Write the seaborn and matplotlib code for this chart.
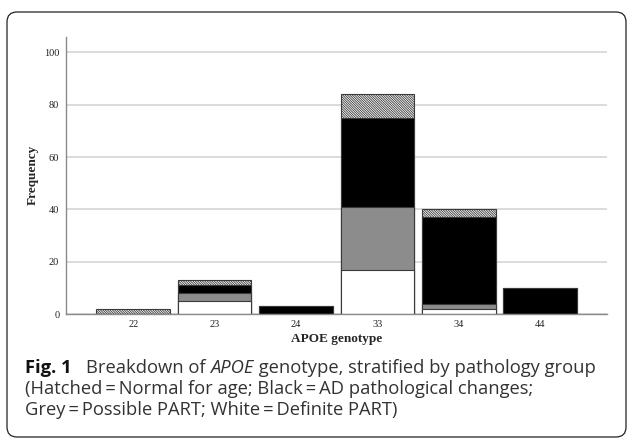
import matplotlib
matplotlib.use("Agg")
import matplotlib.pyplot as plt
from matplotlib.patches import FancyBboxPatch
import seaborn as sns

# APOE genotype counts per pathology group
genotypes = ['22', '23', '24', '33', '34', '44']
definite_part = [0, 5, 0, 17, 2, 0]     # white
possible_part = [0, 3, 0, 24, 2, 0]     # grey
ad_changes = [0, 3, 3, 34, 33, 10]      # black
normal_for_age = [2, 2, 0, 9, 3, 0]     # hatched

y_ticks = [0, 20, 40, 60, 80, 100]

sns.set_style("white")
plt.rcParams['font.family'] = ['Liberation Serif', 'DejaVu Serif']
plt.rcParams['hatch.linewidth'] = 0.6
plt.rcParams['hatch.color'] = '#444444'

fig = plt.figure(figsize=(6.28, 4.38), dpi=100)
ax = fig.add_axes([0.1043, 0.2831, 0.9666 - 0.1043, 0.9162 - 0.2831])

# cumulative stacks, drawn tallest first so each layer covers the one below
lvl_white = definite_part
lvl_grey = [a + b for a, b in zip(lvl_white, possible_part)]
lvl_black = [a + b for a, b in zip(lvl_grey, ad_changes)]
lvl_total = [a + b for a, b in zip(lvl_black, normal_for_age)]

layers = [
    (lvl_total, 'white', '\\' * 14),
    (lvl_black, 'black', None),
    (lvl_grey, '#8c8c8c', None),
    (lvl_white, 'white', None),
]
for vals, col, hatch in layers:
    sns.barplot(x=genotypes, y=vals, order=genotypes, color=col, saturation=1,
                edgecolor='#3a3a3a', linewidth=0.8, width=0.905, errorbar=None,
                hatch=hatch, ax=ax)

ax.set_xlim(-0.833, 5.823)
ax.set_ylim(0, 106)
ax.set_yticks(y_ticks)
ax.yaxis.grid(True, color='#d6d6d6', linewidth=1.2)
ax.xaxis.grid(False)
ax.set_axisbelow(True)

for s in ['top', 'right']:
    ax.spines[s].set_visible(False)
ax.spines['left'].set_color('#8a8a8a')
ax.spines['bottom'].set_color('#8a8a8a')
ax.spines['left'].set_linewidth(1.0)
ax.spines['bottom'].set_linewidth(1.0)

ax.tick_params(axis='y', length=2.5, width=0.8, color='#8a8a8a', pad=2,
               labelsize=7.5, labelcolor='#222222')
ax.tick_params(axis='x', length=0, pad=4, labelsize=7.5, labelcolor='#222222')

ax.set_xlabel('APOE genotype', fontsize=9.5, fontweight='bold', labelpad=3)
ax.set_ylabel('Frequency', fontsize=9.5, fontweight='bold', labelpad=4)

# rounded page frame
frame = FancyBboxPatch((0.07, 0.01), 6.19, 4.25,
                       boxstyle='round,pad=0,rounding_size=0.1',
                       transform=fig.dpi_scale_trans, fill=False,
                       edgecolor='#222222', linewidth=0.9, clip_on=False)
fig.patches.append(frame)

# caption
cap_font = ['Open Sans', 'DejaVu Sans']
cap_size = 13.2
cap_col = '#333333'
renderer = fig.canvas.get_renderer()

def put(x_px, y_base, s, **kw):
    t = fig.text(x_px / 628, y_base, s, fontsize=cap_size, family=cap_font,
                 color=kw.pop('color', cap_col), va='baseline', ha='left', **kw)
    return t.get_window_extent(renderer).x1  # right edge in pixels

y1 = (438 - 373) / 438
y2 = (438 - 394) / 438
y3 = (438 - 415) / 438

put(25, y1, 'Fig. 1', fontweight='bold', color='#111111')
x = put(86, y1, 'Breakdown of ')
x = put(x, y1, 'APOE', style='italic')
put(x, y1, ' genotype, stratified by pathology group')
put(25, y2, '(Hatched\u2009=\u2009Normal for age; Black\u2009=\u2009AD pathological changes;')
put(25, y3, 'Grey\u2009=\u2009Possible PART; White\u2009=\u2009Definite PART)')

fig.savefig('out.png', dpi=100)
